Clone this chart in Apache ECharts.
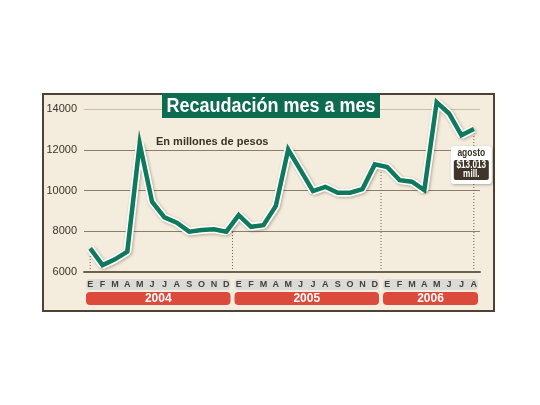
<!DOCTYPE html>
<html>
<head>
<meta charset="utf-8">
<script src="https://cdn.jsdelivr.net/npm/echarts@6/dist/echarts.min.js"></script>
<style>
  html, body { margin: 0; padding: 0; background: #fff; }
  #chart { width: 540px; height: 405px; }
</style>
</head>
<body>
<div id="chart"></div>
<script>
// meses (inicial) y años
const monthLetters = ['E', 'F', 'M', 'A', 'M', 'J', 'J', 'A', 'S', 'O', 'N', 'D']
const years = ['2004', '2005', '2006']
// recaudación mensual, millones de pesos
const values2004 = [7160, 6340, 6620, 7000, 12300, 9450, 8680, 8420, 7980, 8060, 8100, 7980]
const values2005 = [8790, 8220, 8300, 9240, 12010, 11000, 9970, 10180, 9890, 9890, 10070, 11280]
const values2006 = [11150, 10510, 10430, 10020, 14330, 13780, 12710, 13013]
const yTicks = [6000, 8000, 10000, 12000, 14000]

const yearValues = [values2004, values2005, values2006]
const categories = []
const values = []
yearValues.forEach((vals) => {
  vals.forEach((v, i) => {
    categories.push(monthLetters[i])
    values.push(v)
  })
})

const FONT = '"Liberation Sans", Arial, sans-serif'
const green = '#0f7a5b'

const chart = echarts.init(document.getElementById('chart'))

const option = {
  backgroundColor: '#ffffff',
  animation: false,
  grid: { left: 84, right: 60, top: 109, bottom: 133 },
  xAxis: {
    type: 'category',
    data: categories,
    boundaryGap: true,
    axisLine: { lineStyle: { color: '#6e604d', width: 2 } },
    axisTick: { show: false },
    axisLabel: {
      interval: 0,
      margin: 8,
      fontFamily: FONT,
      fontSize: 9,
      fontWeight: 'bold',
      color: '#45403a',
    },
    splitLine: { show: false },
  },
  yAxis: {
    type: 'value',
    min: yTicks[0],
    max: yTicks[yTicks.length - 1],
    interval: 2000,
    axisLine: { show: false },
    axisTick: { show: false },
    axisLabel: {
      margin: 7,
      fontFamily: FONT,
      fontSize: 11,
      color: '#3a342c',
      formatter: (v) => String(v),
    },
    splitLine: {
      lineStyle: {
        color: ['#8c7d69', '#8c7d69', '#8c7d69', '#8c7d69', '#cbbda8'],
        width: 1,
      },
    },
  },
  series: [
    {
      // borde blanco con sombra
      type: 'line',
      data: values,
      symbol: 'none',
      clip: false,
      z: 3,
      lineStyle: {
        color: '#ffffff',
        width: 8,
        shadowColor: 'rgba(60,40,20,0.35)',
        shadowBlur: 3,
        shadowOffsetX: 1,
        shadowOffsetY: 1,
      },
    },
    {
      type: 'line',
      data: values,
      symbol: 'none',
      clip: false,
      z: 4,
      lineStyle: { color: green, width: 4.5, join: 'miter' },
    },
  ],
}
chart.setOption(option)

// decoración calculada desde las escalas
function toPx(i, v) {
  return chart.convertToPixel({ seriesIndex: 1 }, [i, v])
}
const step = toPx(1, 0)[0] - toPx(0, 0)[0]
const axisY = toPx(0, yTicks[0])[1]
const graphics = []

// fondo y marco
graphics.push({
  type: 'rect',
  z: -10,
  shape: { x: 43, y: 94, width: 451, height: 217 },
  style: { fill: '#f4eddd', stroke: '#4d4233', lineWidth: 2 },
})

let start = 0
yearValues.forEach((vals, k) => {
  const end = start + vals.length - 1
  const x0 = toPx(start, 0)[0] - step / 2 + 2
  const x1 = toPx(end, 0)[0] + step / 2 - 2
  // franja gris de meses
  graphics.push({
    type: 'rect',
    z: -5,
    shape: { x: x0, y: axisY + 7, width: x1 - x0, height: 11, r: 4 },
    style: { fill: '#dcdad6' },
  })
  // franja roja del año
  graphics.push({
    type: 'rect',
    z: 5,
    shape: { x: x0, y: axisY + 20, width: x1 - x0, height: 13, r: 4 },
    style: { fill: '#dc4a3b' },
  })
  graphics.push({
    type: 'text',
    z: 6,
    x: (x0 + x1) / 2,
    y: axisY + 26.5,
    style: {
      text: years[k],
      fill: '#ffffff',
      font: 'bold 12px ' + FONT,
      align: 'center',
      verticalAlign: 'middle',
    },
  })
  start = end + 1
})

// líneas punteadas verticales
function dotted(x, yTop) {
  graphics.push({
    type: 'line',
    z: 1,
    shape: { x1: x, y1: axisY, x2: x, y2: yTop },
    style: { stroke: '#6e604d', lineWidth: 1, lineDash: [1, 2] },
  })
}
dotted(toPx(0, 0)[0], toPx(0, values[0])[1])
let boundary = 0
yearValues.slice(0, -1).forEach((vals) => {
  boundary += vals.length
  const a = toPx(boundary - 1, values[boundary - 1])
  const b = toPx(boundary, values[boundary])
  dotted((a[0] + b[0]) / 2, (a[1] + b[1]) / 2)
})
const lastIdx = values.length - 1
const lastPt = toPx(lastIdx, values[lastIdx])
dotted(lastPt[0], lastPt[1])

// título
graphics.push({
  type: 'rect',
  z: 20,
  shape: { x: 162, y: 93, width: 218, height: 25 },
  style: { fill: '#0d6b50' },
})
graphics.push({
  type: 'text',
  z: 21,
  x: 271,
  y: 106,
  scaleX: 0.9,
  style: {
    text: 'Recaudación mes a mes',
    fill: '#ffffff',
    font: 'bold 20px ' + FONT,
    align: 'center',
    verticalAlign: 'middle',
  },
})
graphics.push({
  type: 'text',
  z: 21,
  x: 156,
  y: 142,
  style: {
    text: 'En millones de pesos',
    fill: '#3b3126',
    font: 'bold 11px ' + FONT,
    verticalAlign: 'middle',
  },
})

// etiqueta del último mes
const lastValue = values[lastIdx]
const boxX = lastPt[0] - 23
graphics.push({
  type: 'rect',
  z: 20,
  shape: { x: boxX, y: 146, width: 41, height: 38, r: 3 },
  style: {
    fill: '#ffffff',
    shadowColor: 'rgba(0,0,0,0.3)',
    shadowBlur: 3,
    shadowOffsetX: 1,
    shadowOffsetY: 1,
  },
})
graphics.push({
  type: 'text',
  z: 21,
  x: boxX + 20.5,
  y: 153,
  scaleX: 0.85,
  style: {
    text: 'agosto',
    fill: '#3b3126',
    font: 'bold 10px ' + FONT,
    align: 'center',
    verticalAlign: 'middle',
  },
})
graphics.push({
  type: 'rect',
  z: 21,
  shape: { x: boxX + 3, y: 160, width: 35, height: 20, r: 2 },
  style: { fill: '#41342a' },
})
graphics.push({
  type: 'text',
  z: 22,
  x: boxX + 20.5,
  y: 170,
  scaleX: 0.82,
  style: {
    text: '$' + (lastValue / 1000).toFixed(3) + '\nmill.',
    fill: '#ffffff',
    font: 'bold 10px ' + FONT,
    lineHeight: 9,
    align: 'center',
    verticalAlign: 'middle',
  },
})

chart.setOption({ graphic: { elements: graphics } })
</script>
</body>
</html>
